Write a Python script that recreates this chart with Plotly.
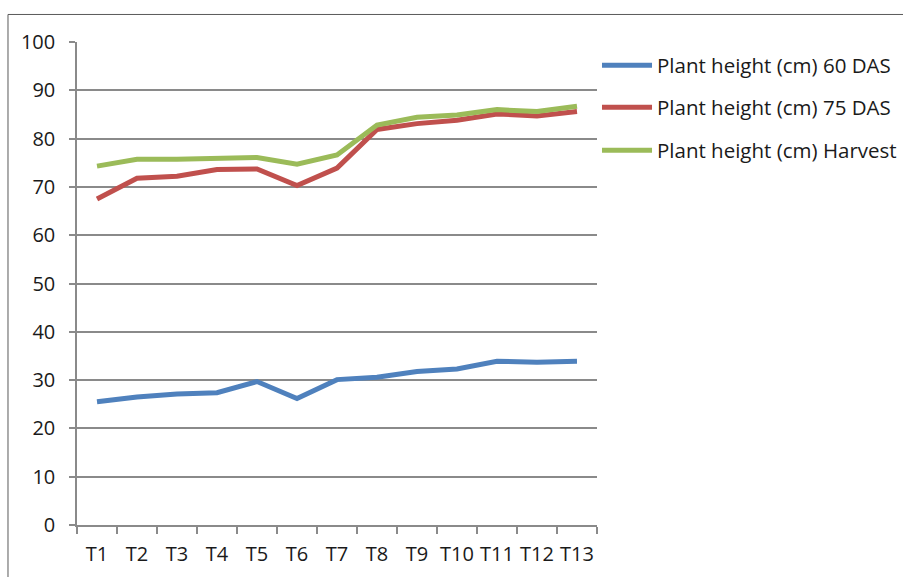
import plotly.graph_objects as go

# Treatments along the x axis
treatments = ["T1", "T2", "T3", "T4", "T5", "T6", "T7", "T8", "T9", "T10", "T11", "T12", "T13"]

# Plant height (cm) at each stage
height_60_das = [25.5, 26.5, 27.1, 27.4, 29.7, 26.2, 30.1, 30.6, 31.8, 32.3, 33.9, 33.7, 33.9]
height_75_das = [67.5, 71.8, 72.2, 73.6, 73.7, 70.3, 73.9, 81.9, 83.1, 83.8, 85.1, 84.7, 85.6]
height_harvest = [74.3, 75.7, 75.7, 75.9, 76.1, 74.7, 76.6, 82.8, 84.4, 84.9, 86.0, 85.6, 86.7]

series_names = [
    "Plant height (cm) 60 DAS",
    "Plant height (cm) 75 DAS",
    "Plant height (cm) Harvest",
]
series_values = [height_60_das, height_75_das, height_harvest]
series_colors = ["#4F81BD", "#C0504D", "#9BBB59"]

FONT = "Open Sans"
TEXT_COLOR = "#1a1a1a"
GRID = "#8a8a8a"

fig = go.Figure()
for name, vals, col in zip(series_names, series_values, series_colors):
    fig.add_trace(go.Scatter(
        x=treatments, y=vals, name=name, mode="lines",
        line=dict(color=col, width=5), showlegend=False,
    ))

# Legend drawn at the right: line swatch + label for each series
legend_y = [0.9518, 0.8648, 0.7757]
shapes = []
annotations = []
for name, col, ly in zip(series_names, series_colors, legend_y):
    shapes.append(dict(type="line", xref="paper", yref="paper",
                       x0=1.0096, x1=1.1058, y0=ly, y1=ly,
                       line=dict(color=col, width=5)))
    annotations.append(dict(text=name, xref="paper", yref="paper",
                            x=1.1115, y=ly, xanchor="left", yanchor="middle",
                            showarrow=False,
                            font=dict(family=FONT, size=20.5, color=TEXT_COLOR)))

# Outer chart frame (runs off the right and bottom edges)
shapes.append(dict(type="rect", xref="paper", yref="paper",
                   x0=-0.1327, x1=1.60, y0=-0.2, y1=1.057,
                   line=dict(color="#5a5a5a", width=1), layer="below"))

fig.update_layout(
    width=903, height=577,
    margin=dict(l=77, r=306, t=42, b=52, autoexpand=False),
    paper_bgcolor="white", plot_bgcolor="white",
    font=dict(family=FONT, size=20, color=TEXT_COLOR),
    shapes=shapes, annotations=annotations,
    xaxis=dict(
        type="category", categoryorder="array", categoryarray=treatments,
        range=[-0.5, 12.5], tickson="boundaries", tickangle=0,
        automargin=False,
        ticks="outside", ticklen=7, tickwidth=1.5, tickcolor=GRID,
        showline=True, linecolor=GRID, linewidth=1.5,
        showgrid=False, ticklabelstandoff=10,
        tickfont=dict(family=FONT, size=20, color=TEXT_COLOR),
    ),
    yaxis=dict(
        range=[0, 100], dtick=10, tick0=0, automargin=False,
        ticks="outside", ticklen=6, tickwidth=1.5, tickcolor=GRID,
        showline=True, linecolor=GRID, linewidth=1.5,
        showgrid=True, gridcolor=GRID, gridwidth=1.5,
        zeroline=False, ticklabelstandoff=10,
        tickfont=dict(family=FONT, size=20, color=TEXT_COLOR),
    ),
)

fig.write_html("out.html")
